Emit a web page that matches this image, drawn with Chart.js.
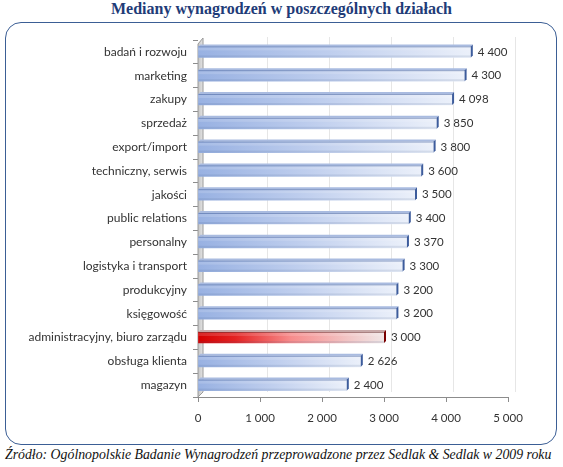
<!DOCTYPE html>
<html><head><meta charset="utf-8">
<script src="https://cdn.jsdelivr.net/npm/chart.js@4"></script>
<style>
html,body{margin:0;padding:0;background:#fff;width:563px;height:467px;overflow:hidden}
#title{position:absolute;left:0;top:0px;width:563px;text-align:center;font-family:"Liberation Serif","Times New Roman",serif;font-weight:bold;font-size:16px;color:#1F3C78}
#box{position:absolute;left:5px;top:22px;width:550px;height:421px;border:1.5px solid #3B5E95;border-radius:16px}
#foot{position:absolute;left:5px;top:447px;font-family:"Liberation Serif","Times New Roman",serif;font-style:italic;font-size:13.8px;color:#111;white-space:nowrap}
canvas{position:absolute;left:0;top:0}
</style></head><body>
<div id="title">Mediany wynagrodzeń w poszczególnych działach</div>
<div id="box"></div>
<div id="foot">Źródło: Ogólnopolskie Badanie Wynagrodzeń przeprowadzone przez Sedlak &amp; Sedlak w 2009 roku</div>
<canvas id="c" width="563" height="467"></canvas>
<script>
const categories = ['badań i rozwoju','marketing','zakupy','sprzedaż','export/import','techniczny, serwis','jakości','public relations','personalny','logistyka i transport','produkcyjny','księgowość','administracyjny, biuro zarządu','obsługa klienta','magazyn'];
const values = [4400,4300,4098,3850,3800,3600,3500,3400,3370,3300,3200,3200,3000,2626,2400];
const highlighted = ['administracyjny, biuro zarządu'];
const xTicks = [0,1000,2000,3000,4000,5000];

const fmt = v => String(v).replace(/\B(?=(\d{3})+(?!\d))/g, ' ');
const isHl = i => highlighted.includes(categories[i]);

function barFill(c){
  const ch = c.chart; if (!ch.chartArea) return '#9bb3e0';
  const xs = ch.scales.x;
  const x0 = xs.getPixelForValue(0), x1 = xs.getPixelForValue(c.raw);
  const g = ch.ctx.createLinearGradient(x0, 0, x1, 0);
  if (isHl(c.dataIndex)) {
    g.addColorStop(0, '#D40000'); g.addColorStop(0.2, '#E42222');
    g.addColorStop(0.5, '#F78C8C'); g.addColorStop(0.8, '#F2C4C4'); g.addColorStop(1, '#F0E6E6');
  } else {
    g.addColorStop(0, '#98B1E2'); g.addColorStop(0.5, '#C0CFEE'); g.addColorStop(1, '#EBF0FA');
  }
  return g;
}

const depthPlugin = {
  id: 'depth',
  beforeDatasetsDraw(ch){
    const {ctx, chartArea:a} = ch; const xs = ch.scales.x;
    ctx.save();
    ctx.strokeStyle = '#e6e6e6'; ctx.lineWidth = 1;
    xTicks.forEach(v => { if (v===0) return;
      const x = Math.round(xs.getPixelForValue(v)) + 7.5;
      ctx.beginPath(); ctx.moveTo(x, a.top - 3); ctx.lineTo(x, a.bottom - 5); ctx.stroke();
    });
    const L = a.left;
    ctx.beginPath();
    ctx.moveTo(L, a.bottom); ctx.lineTo(L, a.top + 4); ctx.lineTo(L + 5, a.top - 2); ctx.lineTo(L + 5, a.bottom - 5); ctx.closePath();
    const g = ctx.createLinearGradient(L, 0, L + 5, 0);
    g.addColorStop(0, '#c4c4c4'); g.addColorStop(1, '#e4e4e4');
    ctx.fillStyle = g; ctx.fill();
    ctx.strokeStyle = '#9a9a9a'; ctx.lineWidth = 1; ctx.stroke();
    ctx.restore();
  },
  afterDatasetsDraw(ch){
    const {ctx} = ch; const meta = ch.getDatasetMeta(0);
    ctx.save();
    meta.data.forEach((bar, i) => {
      const hl = isHl(i);
      const top = bar.y - bar.height/2, bot = bar.y + bar.height/2;
      const x0 = bar.base, x1 = bar.x, d = 2;
      ctx.beginPath();
      ctx.moveTo(x0, top); ctx.lineTo(x1, top); ctx.lineTo(x1 + d, top - d); ctx.lineTo(x0 + d, top - d); ctx.closePath();
      ctx.fillStyle = hl ? '#C8A8A8' : '#A9BBE0'; ctx.fill();
      ctx.fillStyle = hl ? 'rgba(110,60,60,0.55)' : 'rgba(80,105,160,0.55)';
      ctx.fillRect(x0, top, x1 - x0, 1);
      ctx.fillStyle = 'rgba(255,255,255,0.15)';
      ctx.fillRect(x0, top + 1, x1 - x0, 3);
      ctx.fillStyle = 'rgba(60,80,130,0.12)';
      ctx.fillRect(x0, bot - 2, x1 - x0, 2);
      ctx.beginPath();
      ctx.moveTo(x1, top); ctx.lineTo(x1 + d, top - d); ctx.lineTo(x1 + d, bot - d); ctx.lineTo(x1, bot); ctx.closePath();
      ctx.fillStyle = hl ? '#7A0000' : '#3D5C9C'; ctx.fill();
      ctx.fillStyle = '#333';
      ctx.font = '11.5px Lato, "Open Sans", sans-serif';
      ctx.textBaseline = 'middle'; ctx.textAlign = 'left';
      ctx.fillText(fmt(values[i]), x1 + d + 5, bar.y);
    });
    ctx.restore();
  }
};

new Chart(document.getElementById('c'), {
  type: 'bar',
  data: { labels: categories, datasets: [{ data: values, backgroundColor: barFill, borderWidth: 0, barThickness: 11 }] },
  options: {
    indexAxis: 'y', responsive: false, animation: false,
    layout: { padding: { left: 0, right: 55, top: 40, bottom: 40 } },
    plugins: { legend: { display: false }, tooltip: { enabled: false } },
    scales: {
      x: {
        min: 0, max: 5000,
        afterBuildTicks: s => { s.ticks = xTicks.map(v => ({ value: v })); },
        afterFit: s => { s.height = 30; },
        grid: { drawOnChartArea: false, tickLength: 5, color: '#8c8c8c' },
        border: { color: '#8c8c8c' },
        ticks: { color: '#333', padding: 9, font: { family: 'Lato', size: 11.5 }, callback: v => fmt(v) }
      },
      y: {
        afterFit: s => { s.width = 198; },
        grid: { drawOnChartArea: false, tickLength: 5, color: '#8c8c8c', offset: true },
        border: { display: false },
        ticks: { color: '#333', padding: 6, font: { family: 'Lato', size: 12 } }
      }
    }
  },
  plugins: [depthPlugin]
});
</script>
</body></html>
